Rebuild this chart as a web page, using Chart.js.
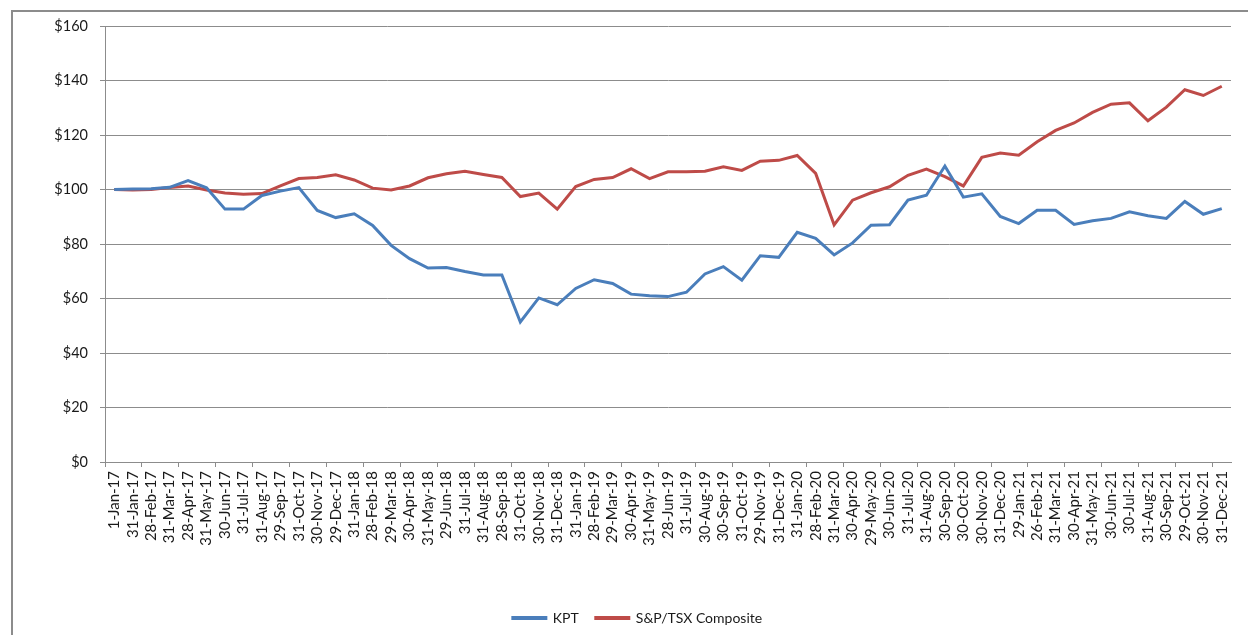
<!DOCTYPE html>
<html>
<head>
<meta charset="utf-8">
<script src="https://cdn.jsdelivr.net/npm/chart.js@4.4.1/dist/chart.umd.min.js"></script>
<style>
  html, body { margin: 0; padding: 0; background: #fff; }
  #wrap { position: relative; width: 1248px; height: 635px; overflow: hidden; }
  #frame { position: absolute; left: 11px; top: 10px; width: 1300px; height: 700px;
           border-left: 2px solid #8c8c8c; border-top: 2px solid #8c8c8c; }
  canvas { position: absolute; left: 0; top: 0; }
</style>
</head>
<body>
<div id="wrap">
  <div id="frame"></div>
  <canvas id="perfChart" width="1248" height="635"></canvas>
</div>
<script>
// Month-end dates
var dates = [
  "1-Jan-17", "31-Jan-17", "28-Feb-17", "31-Mar-17", "28-Apr-17", "31-May-17", "30-Jun-17", "31-Jul-17",
  "31-Aug-17", "29-Sep-17", "31-Oct-17", "30-Nov-17", "29-Dec-17", "31-Jan-18", "28-Feb-18", "29-Mar-18",
  "30-Apr-18", "31-May-18", "29-Jun-18", "31-Jul-18", "31-Aug-18", "28-Sep-18", "31-Oct-18", "30-Nov-18",
  "31-Dec-18", "31-Jan-19", "28-Feb-19", "29-Mar-19", "30-Apr-19", "31-May-19", "28-Jun-19", "31-Jul-19",
  "30-Aug-19", "30-Sep-19", "31-Oct-19", "29-Nov-19", "31-Dec-19", "31-Jan-20", "28-Feb-20", "31-Mar-20",
  "30-Apr-20", "29-May-20", "30-Jun-20", "31-Jul-20", "31-Aug-20", "30-Sep-20", "30-Oct-20", "30-Nov-20",
  "31-Dec-20", "29-Jan-21", "26-Feb-21", "31-Mar-21", "30-Apr-21", "31-May-21", "30-Jun-21", "30-Jul-21",
  "31-Aug-21", "30-Sep-21", "29-Oct-21", "30-Nov-21", "31-Dec-21"
];

// Value of $100 invested
var kpt = [
  100, 100.2, 100.3, 100.8, 103.3, 100.6, 92.8, 92.8, 97.8, 99.4, 100.7, 92.3, 89.7, 91.1, 86.8, 79.5,
  74.6, 71.2, 71.4, 69.9, 68.6, 68.6, 51.4, 60.2, 57.7, 63.7, 66.9, 65.5, 61.6, 61.0, 60.7, 62.3,
  69.0, 71.7, 66.7, 75.7, 75.1, 84.3, 82.1, 76.0, 80.4, 86.9, 87.1, 96.1, 97.9, 108.6, 97.2, 98.4,
  90.1, 87.5, 92.4, 92.4, 87.2, 88.5, 89.4, 91.8, 90.4, 89.4, 95.6, 90.9, 93.0
];
var tsx = [
  100, 99.8, 100, 100.7, 101.3, 99.8, 98.7, 98.3, 98.5, 101.3, 104, 104.4, 105.4, 103.5, 100.5, 99.8,
  101.3, 104.3, 105.8, 106.7, 105.5, 104.4, 97.4, 98.7, 92.8, 101.1, 103.7, 104.4, 107.6, 104.0, 106.5, 106.5,
  106.7, 108.3, 107.0, 110.4, 110.7, 112.5, 105.9, 87.0, 96.1, 98.8, 101.0, 105.2, 107.5, 104.7, 101.3, 111.8,
  113.4, 112.6, 117.5, 121.7, 124.4, 128.3, 131.3, 131.8, 125.2, 130.2, 136.6, 134.5, 137.9
];

var axisGray = "#8c8c8c";

var ctx = document.getElementById("perfChart");
var perfChart = new Chart(ctx, {
    type: 'line',
    data: {
        labels: dates,
        datasets: [{
            label: "KPT",
            data: kpt,
            borderColor: "#4a7ebb",
            backgroundColor: "#4a7ebb",
            borderWidth: 3,
            pointRadius: 0,
            tension: 0
        }, {
            label: "S&P/TSX Composite",
            data: tsx,
            borderColor: "#be4b48",
            backgroundColor: "#be4b48",
            borderWidth: 3,
            pointRadius: 0,
            tension: 0
        }]
    },
    options: {
        responsive: false,
        animation: false,
        layout: {
            padding: { left: 44, right: 17, top: 26, bottom: 0 }
        },
        scales: {
            x: {
                offset: true,
                border: { color: axisGray, width: 1 },
                grid: {
                    offset: true,
                    drawOnChartArea: false,
                    drawTicks: true,
                    tickLength: 5,
                    color: function(c) { return c.index % 2 === 0 ? axisGray : "rgba(0,0,0,0)"; }
                },
                ticks: {
                    autoSkip: false,
                    maxRotation: 90,
                    minRotation: 90,
                    padding: 4,
                    color: "#1a1a1a",
                    font: { family: "Lato", size: 15 }
                },
                afterFit: function(scale) { scale.height = 132; }
            },
            y: {
                min: 0,
                max: 160,
                border: { color: axisGray, width: 1 },
                grid: {
                    color: axisGray,
                    lineWidth: 1,
                    drawTicks: true,
                    tickLength: 5
                },
                ticks: {
                    stepSize: 20,
                    padding: 12,
                    color: "#1a1a1a",
                    font: { family: "Lato", size: 14.5 },
                    callback: function(v) { return "$" + v; }
                },
                afterFit: function(scale) { scale.width = 61; }
            }
        },
        plugins: {
            legend: {
                position: 'bottom',
                labels: {
                    boxWidth: 33,
                    boxHeight: 1,
                    padding: 17,
                    color: "#1a1a1a",
                    font: { family: "Lato", size: 14 }
                }
            },
            tooltip: { enabled: false }
        }
    }
});
</script>
</body>
</html>
